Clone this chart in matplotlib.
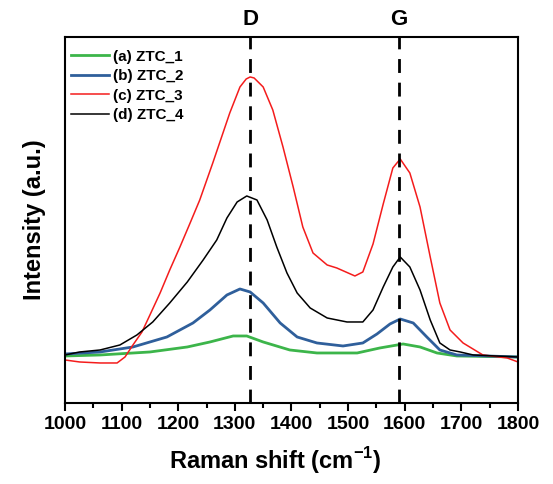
import numpy as np
import matplotlib
matplotlib.use('Agg')
import matplotlib.pyplot as plt
from matplotlib.ticker import MultipleLocator

plt.rcParams['font.family'] = ['Liberation Sans', 'DejaVu Sans']
plt.rcParams['font.weight'] = 'bold'
plt.rcParams['mathtext.fontset'] = 'custom'
plt.rcParams['mathtext.rm'] = 'Liberation Sans:bold'
plt.rcParams['mathtext.bf'] = 'Liberation Sans:bold'

# Raman spektren, Werte
x_a = [1000, 1062, 1150, 1216, 1256, 1297, 1321, 1350, 1397, 1445, 1516, 1556, 1597,
       1627, 1657, 1692, 1800]
y_a = [47, 48, 51, 56, 61, 67, 67, 61, 53, 50, 50, 55, 59, 56, 50, 47, 46]

x_b = [1000, 1062, 1120, 1180, 1226, 1256, 1286, 1309, 1327, 1350, 1380, 1410, 1445,
       1491, 1526, 1551, 1574, 1592, 1615, 1639, 1662, 1692, 1800]
y_b = [49, 51, 56, 66, 80, 93, 108, 114, 111, 100, 80, 66, 60, 57, 60, 69, 79, 84, 80,
       66, 53, 48, 46]

x_c = [1000, 1026, 1062, 1092, 1106, 1120, 1136, 1150, 1168, 1185, 1203, 1221, 1238,
       1261, 1291, 1309, 1320, 1327, 1334, 1350, 1367, 1385, 1403, 1420, 1438, 1463,
       1480, 1512, 1526, 1544, 1562, 1579, 1592, 1609, 1627, 1645, 1662, 1680, 1703,
       1738, 1781, 1800]
y_c = [43, 41, 40, 40, 46, 58, 71, 88, 110, 133, 156, 180, 203, 240, 290, 316, 324, 326,
       325, 316, 293, 256, 216, 176, 150, 138, 135, 127, 131, 159, 199, 235, 244, 230,
       196, 146, 100, 73, 60, 48, 45, 41]

x_d = [1000, 1026, 1062, 1097, 1127, 1155, 1185, 1216, 1244, 1268, 1286, 1304, 1321,
       1339, 1357, 1374, 1392, 1410, 1433, 1463, 1498, 1526, 1544, 1562, 1579, 1592,
       1609, 1627, 1645, 1662, 1680, 1698, 1721, 1800]
y_d = [48, 51, 53, 58, 68, 81, 100, 121, 143, 163, 185, 201, 207, 203, 183, 156, 130,
       110, 95, 85, 81, 81, 93, 116, 136, 146, 136, 113, 83, 60, 53, 51, 48, 46]

labels = ['(a) ZTC_1', '(b) ZTC_2', '(c) ZTC_3', '(d) ZTC_4']
colors = ['#3cb54a', '#2f5f9b', '#f41c1c', '#000000']
widths = [2.0, 2.0, 1.1, 1.1]

D_pos = 1327
G_pos = 1590

fig = plt.figure(figsize=(5.53, 4.84), dpi=100)
ax = fig.add_axes([0.1175, 0.1674, 0.8192, 0.7562])

for xs, ys, lab, c, w in zip([x_a, x_b, x_c, x_d], [y_a, y_b, y_c, y_d], labels, colors, widths):
    ax.plot(xs, ys, color=c, lw=w, label=lab)

for p, name in [(D_pos, 'D'), (G_pos, 'G')]:
    ax.axvline(p, color='k', lw=2.0, ls=(0, (5, 3.5)))
    ax.text(p, 1.02, name, transform=ax.get_xaxis_transform(), ha='center', va='bottom',
            fontsize=16, fontweight='bold')

ax.set_xlim(1000, 1800)
ax.set_ylim(0, 366)
ax.xaxis.set_major_locator(MultipleLocator(100))
ax.xaxis.set_minor_locator(MultipleLocator(50))
ax.set_yticks([])
ax.tick_params(axis='x', which='major', direction='out', length=6, width=1.5, labelsize=14)
ax.tick_params(axis='x', which='minor', direction='out', length=3.5, width=1.5)
for lab in ax.get_xticklabels():
    lab.set_fontweight('bold')
for s in ax.spines.values():
    s.set_linewidth(1.5)

ax.set_xlabel(r'Raman shift (cm$^{-1}$)', fontsize=17, fontweight='bold', labelpad=8)
ax.xaxis.set_label_coords(0.464, -0.115)
ax.set_ylabel('Intensity (a.u.)', fontsize=17, fontweight='bold', labelpad=14)

leg = ax.legend(loc='upper left', bbox_to_anchor=(-0.005, 0.988), frameon=False,
                fontsize=11, handlelength=2.5, handletextpad=0.25, labelspacing=0.36,
                borderaxespad=0.15)
for t in leg.get_texts():
    t.set_fontweight('bold')

fig.savefig('out.png', dpi=100)
